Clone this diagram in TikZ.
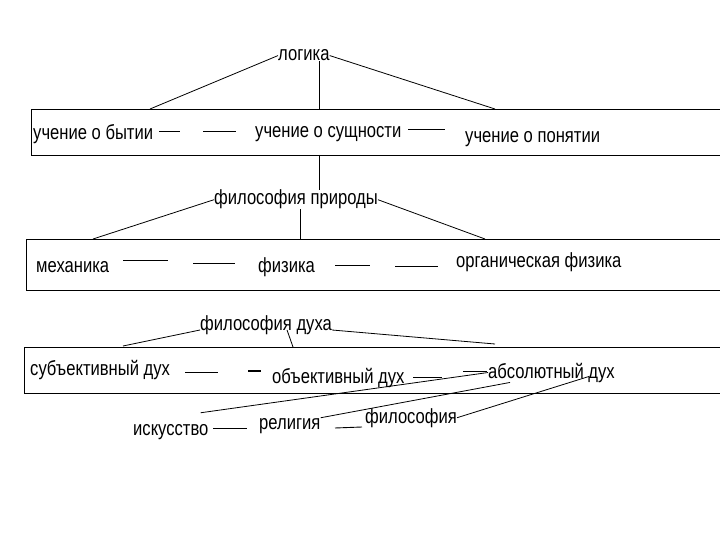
\documentclass[tikz,border=0pt]{standalone}
\usepackage{fontspec}
\setmainfont{Liberation Sans}[FakeStretch=0.81]
\usepackage{tikz}
\tikzset{
  lbl/.style={anchor=base west, inner sep=0pt, font=\fontsize{20.5}{24}\selectfont},
  frame/.style={draw=black, line width=0.9pt},
  link/.style={draw=black, line width=0.8pt},
  tieline/.style={draw=black, line width=0.9pt},
  thicktie/.style={draw=black, line width=1.8pt}
}

\begin{document}
\begin{tikzpicture}[x=1pt,y=-1pt]
  \useasboundingbox[fill=white] (0,0) rectangle (720,540);

  % logic
  \node[lbl] (logika) at (278,61) {логика};
  \draw[frame] (720,109) -- (31,109) -- (31,155) -- (720,155);
  \coordinate (b1l) at (150,109);
  \coordinate (b1m) at (319,109);
  \coordinate (b1r) at (495,109);
  \coordinate (b1d) at (319,155);

  \node[lbl] (bytie)   at (33,140)  {учение о бытии};
  \node[lbl] (sushch)  at (255,138) {учение о сущности};
  \node[lbl] (ponyat)  at (465,143) {учение о понятии};

  \draw[link] (logika.west) -- (b1l);
  \draw[link] (logika.south -| b1m) -- (b1m);
  \draw[link] (logika.east) -- (b1r);

  \draw[tieline] (159,131) -- (180,131);
  \draw[tieline] (203,131) -- (236,131);
  \draw[tieline] (408,129) -- (445,129);

  % nature
  \node[lbl] (priroda) at (214,205) {философия природы};
  \draw[frame] (720,239) -- (26,239) -- (26,290) -- (720,290);
  \coordinate (b2l) at (93,239);
  \coordinate (b2m) at (300,239);
  \coordinate (b2r) at (485,239);

  \node[lbl] (mekh)   at (36,272)  {механика};
  \node[lbl] (fiz)    at (258,272) {физика};
  \node[lbl] (organ)  at (456,267) {органическая физика};

  \draw[link] (b1d) -- (priroda.north -| b1d);
  \draw[link] (priroda.west) -- (b2l);
  \draw[link] (priroda.south -| b2m) -- (b2m);
  \draw[link] (priroda.east) -- (b2r);

  \draw[tieline] (123,260) -- (168,260);
  \draw[tieline] (193,263) -- (235,263);
  \draw[tieline] (335,265) -- (370,265);
  \draw[tieline] (395,266) -- (438,266);

  % spirit
  \node[lbl] (dukh) at (200,330) {философия духа};
  \draw[frame] (720,347) -- (24,347) -- (24,393) -- (720,393);
  \coordinate (b3l) at (123,346);
  \coordinate (b3m) at (293,347);
  \coordinate (b3r) at (495,344);

  \node[lbl] (subj) at (30,375)  {субъективный дух};
  \node[lbl] (obj)  at (272,383) {объективный дух};
  \node[lbl] (abs)  at (488,378) {абсолютный дух};

  \draw[link] (dukh.base west) -- (b3l);
  \draw[link] ([xshift=21pt]dukh.base) -- (b3m);
  \draw[link] (dukh.base east) -- (b3r);

  \draw[tieline] (185,372) -- (218,372);
  \draw[thicktie] (248,371) -- (261,371);
  \draw[tieline] (413,377) -- (442,377);
  \draw[tieline] (463,371) -- (487,371);

  % absolute spirit
  \node[lbl] (isk)  at (133,435) {искусство};
  \node[lbl] (rel)  at (259,429) {религия};
  \node[lbl] (filo) at (365,423) {философия};

  \draw[tieline] (213,428) -- (247,428);
  \draw[tieline] (335,428) -- (362,427);

  \draw[link] ([xshift=-8pt,yshift=11pt]isk.north east) -- (abs.west);
  \draw[link] (rel.north east) -- ([xshift=22pt]abs.south west);
  \draw[link] (filo.east) -- ([xshift=-26pt,yshift=6pt]abs.south east);
\end{tikzpicture}
\end{document}
